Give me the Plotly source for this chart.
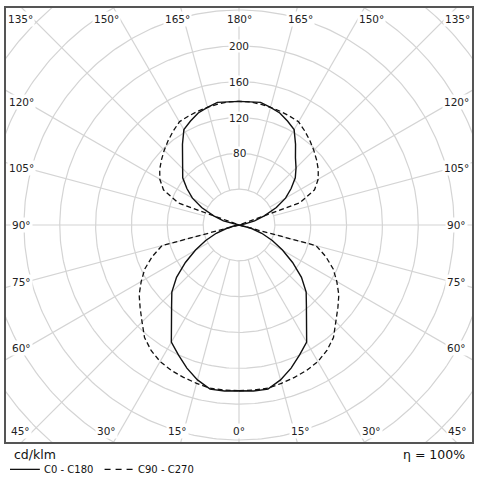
import numpy as np
import plotly.graph_objects as go

# ---------------- data (cd/klm) ----------------
gamma_deg = list(range(0, 181, 5))  # 0 = down (nadir), 180 = up
c0_c180 = [185, 186, 186, 179, 170, 160, 151, 132, 117, 106, 91, 73, 56, 41, 27, 14, 5, 1, 0,
           1, 6, 18, 30, 46, 60, 71, 82, 90, 98, 110, 123, 128, 133, 136, 139, 138, 138]
c90_c270 = [185, 185, 185, 183, 181, 179, 176, 171, 164, 153, 144, 136, 126, 116, 103, 89, 0, 0, 0,
            0, 0, 0, 72, 93, 102, 108, 113, 118, 123, 128, 133, 134, 135, 136, 137, 138, 138]
ring_values = [40, 80, 120, 160, 200, 240, 280, 320, 360]
ring_labels = [80, 120, 160, 200]
angle_labels = [0, 15, 30, 45, 60, 75, 90, 105, 120, 135, 150, 165, 180]
legend_names = ["C0 - C180", "C90 - C270"]
unit_text = "cd/klm"
eta_text = "η = 100%"

# ---------------- layout constants ----------------
W, H = 480, 478
ML, MR, MT, MB = 6, 6, 6, 36
PX_PER_UNIT = 0.9
XR = (W - ML - MR) / 2 / PX_PER_UNIT
YR = (H - MT - MB) / 2 / PX_PER_UNIT
GRID = "#d4d4d4"
FONT = "DejaVu Sans"


def px_x(p):
    return (p - ML) / (W - ML - MR)


def px_y(p):
    return (H - MB - p) / (H - MT - MB)


def curve_xy(vals):
    g = np.radians(np.array(gamma_deg, dtype=float))
    r = np.array(vals, dtype=float)
    xr, yr = r * np.sin(g), -r * np.cos(g)
    x = np.concatenate([xr, -xr[::-1]])
    y = np.concatenate([yr, yr[::-1]])
    return x, y


fig = go.Figure()

# grid circles
t = np.linspace(0, 2 * np.pi, 361)
cx, cy = [], []
for rv in ring_values:
    cx += list(rv * np.cos(t)) + [None]
    cy += list(rv * np.sin(t)) + [None]
fig.add_trace(go.Scatter(x=cx, y=cy, mode="lines", line=dict(color=GRID, width=1.2),
                         hoverinfo="skip", showlegend=False))

# radial lines
rx, ry = [], []
r0, r1 = ring_values[0], 420
for a in range(0, 360, 15):
    ar = np.radians(a)
    rx += [r0 * np.sin(ar), r1 * np.sin(ar), None]
    ry += [-r0 * np.cos(ar), -r1 * np.cos(ar), None]
fig.add_trace(go.Scatter(x=rx, y=ry, mode="lines", line=dict(color=GRID, width=1.2),
                         hoverinfo="skip", showlegend=False))

# curves
x1, y1 = curve_xy(c90_c270)
fig.add_trace(go.Scatter(x=x1, y=y1, mode="lines", name=legend_names[1],
                         line=dict(color="#111111", width=1.3, dash="5px,3px"), showlegend=False))
x0, y0 = curve_xy(c0_c180)
fig.add_trace(go.Scatter(x=x0, y=y0, mode="lines", name=legend_names[0],
                         line=dict(color="#111111", width=1.4), showlegend=False))

annotations = []
# ring labels
for rv in ring_labels:
    annotations.append(dict(x=0, y=rv, xref="x", yref="y", text=str(rv), showarrow=False,
                            font=dict(family=FONT, size=10.5, color="#222"),
                            bgcolor="white", borderpad=0, xanchor="center", yanchor="middle"))

# angle labels around frame
TB_K, TB_H, SIDE_W, SIDE_K, CORNER_X = 230, 206.5, 218, 214, 219
for g in angle_labels:
    gr = np.radians(g)
    for s in ([1] if g in (0, 180) else [-1, 1]):
        if g <= 45 or g >= 135:
            xp = min(TB_K * abs(np.tan(gr)), CORNER_X)
            yp = -TB_H if g <= 45 else TB_H
        else:
            xp = SIDE_W
            yp = -SIDE_K / np.tan(gr)
        annotations.append(dict(x=s * xp / PX_PER_UNIT, y=yp / PX_PER_UNIT, xref="x", yref="y",
                                text=f"{g}°", showarrow=False,
                                font=dict(family=FONT, size=10.5, color="#222"),
                                bgcolor="white", borderpad=1, xanchor="center", yanchor="middle"))

# bottom texts
annotations.append(dict(x=px_x(12), y=px_y(455), xref="paper", yref="paper", text=unit_text,
                        showarrow=False, xanchor="left", yanchor="middle",
                        font=dict(family=FONT, size=12.5, color="#111")))
annotations.append(dict(x=px_x(469), y=px_y(455), xref="paper", yref="paper", text=eta_text,
                        showarrow=False, xanchor="right", yanchor="middle",
                        font=dict(family=FONT, size=12.5, color="#111")))
annotations.append(dict(x=px_x(42), y=px_y(470), xref="paper", yref="paper", text=legend_names[0],
                        showarrow=False, xanchor="left", yanchor="middle",
                        font=dict(family=FONT, size=10, color="#111")))
annotations.append(dict(x=px_x(137), y=px_y(470), xref="paper", yref="paper", text=legend_names[1],
                        showarrow=False, xanchor="left", yanchor="middle",
                        font=dict(family=FONT, size=10, color="#111")))

shapes = [
    dict(type="line", xref="paper", yref="paper", x0=px_x(10), x1=px_x(40), y0=px_y(469.5), y1=px_y(469.5),
         line=dict(color="#111", width=1.3)),
    dict(type="line", xref="paper", yref="paper", x0=px_x(105), x1=px_x(134), y0=px_y(469.5), y1=px_y(469.5),
         line=dict(color="#111", width=1.3, dash="6px,5px")),
]

fig.update_layout(
    width=W, height=H, margin=dict(l=ML, r=MR, t=MT, b=MB),
    paper_bgcolor="white", plot_bgcolor="white",
    annotations=annotations, shapes=shapes,
    xaxis=dict(range=[-XR, XR], showgrid=False, zeroline=False, showticklabels=False, ticks="",
               showline=True, mirror=True, linecolor="#555", linewidth=2, fixedrange=True),
    yaxis=dict(range=[-YR, YR], showgrid=False, zeroline=False, showticklabels=False, ticks="",
               showline=True, mirror=True, linecolor="#555", linewidth=2, fixedrange=True),
    showlegend=False,
)

fig.write_html(
    "out.html",
    config={"displayModeBar": False},
    post_script="document.body.style.margin='0';document.body.style.overflow='hidden';",
)
